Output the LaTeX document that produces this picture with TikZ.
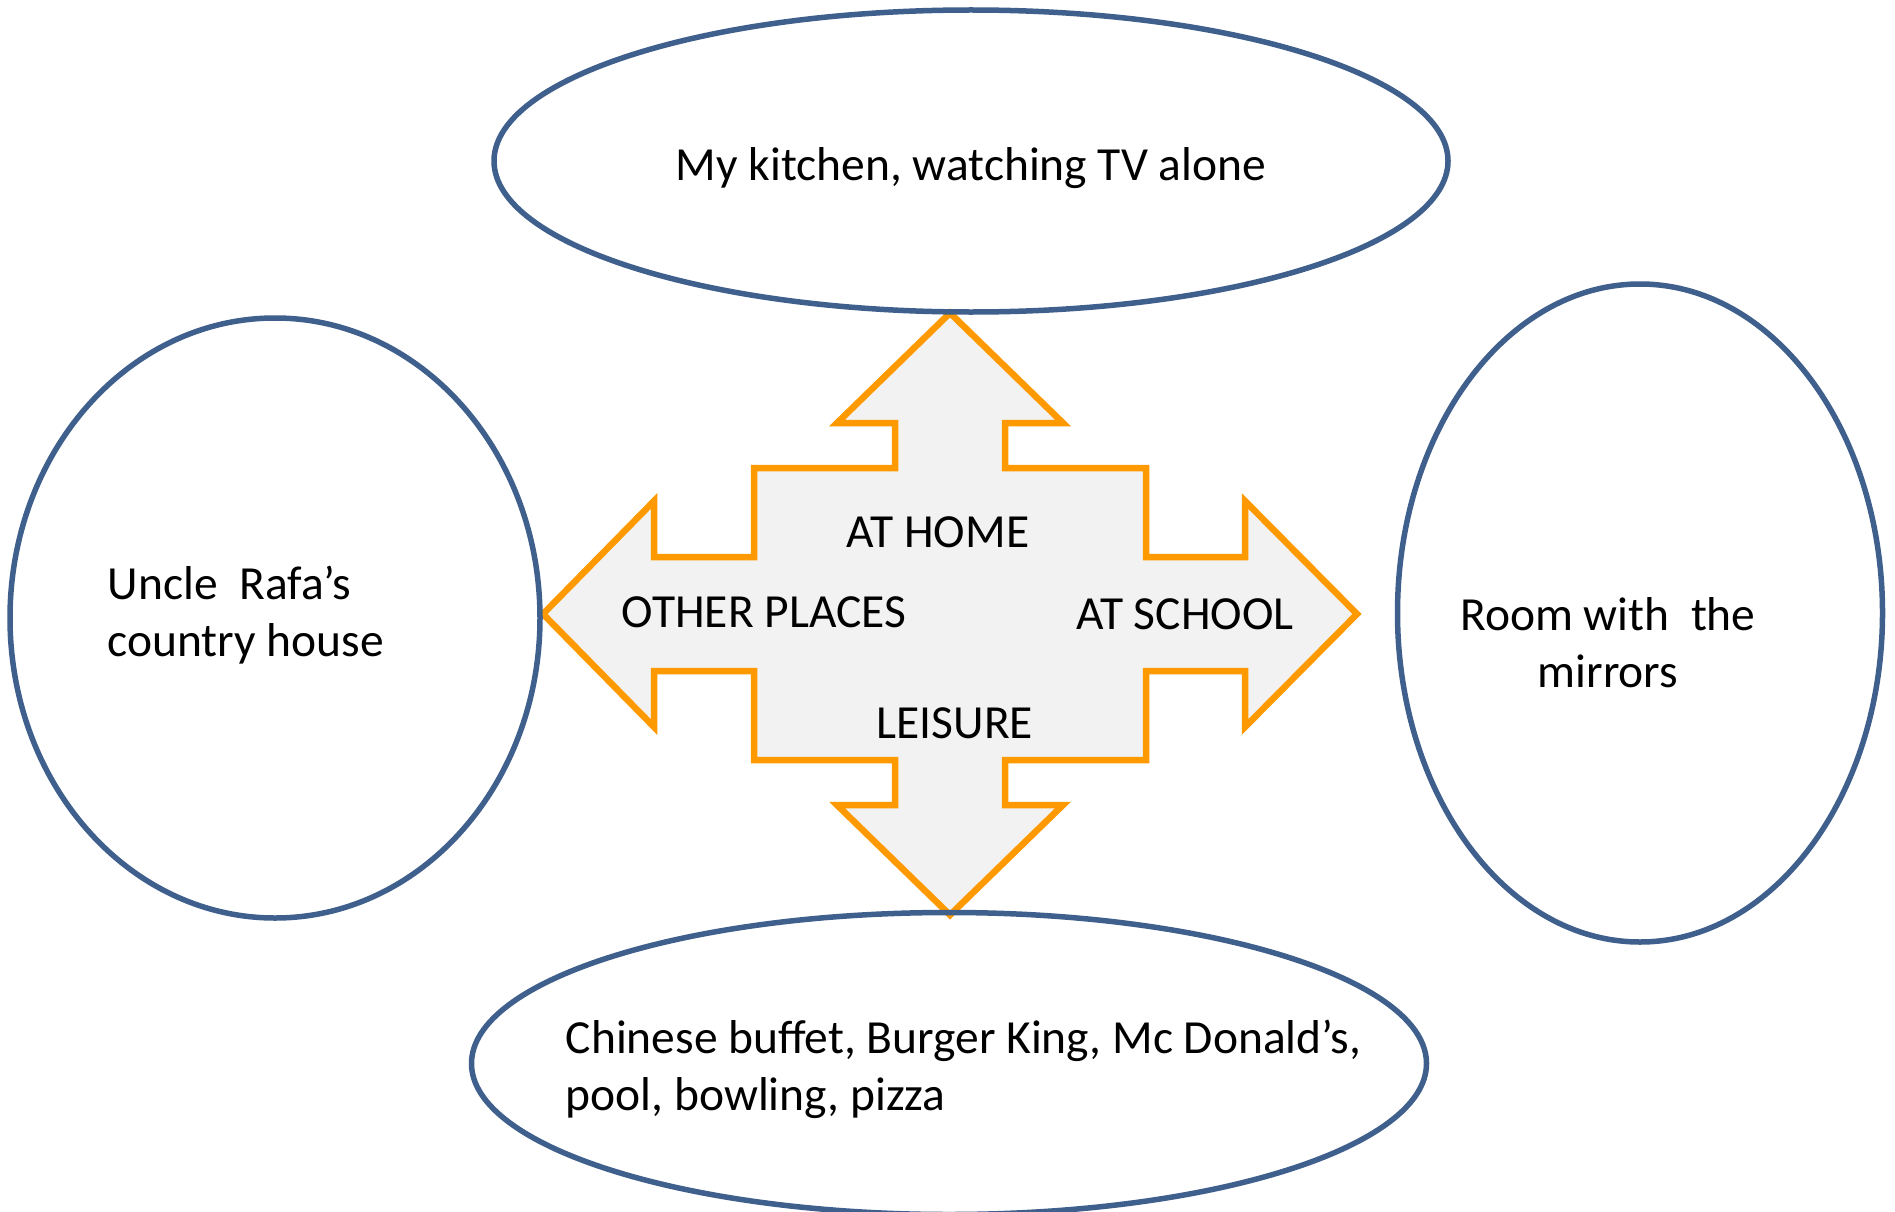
\documentclass[tikz,border=0pt]{standalone}
\usepackage{fontspec}
\setmainfont{Carlito}
\usetikzlibrary{shapes.geometric}
\definecolor{ellblue}{HTML}{3F5F8C}
\definecolor{arrorange}{HTML}{FF9900}
\definecolor{arrfill}{HTML}{F2F2F2}
\tikzset{
  bubble/.style={draw=ellblue, line width=5.5pt, ellipse, inner sep=0pt},
  lbl/.style={font=\fontsize{47.5}{57}\selectfont, inner sep=0pt, text=black},
  quadarrow/.style={draw=arrorange, fill=arrfill, line width=6.5pt, line join=miter}
}
\begin{document}
\begin{tikzpicture}[x=1pt,y=-1pt]
\useasboundingbox (0,0) rectangle (1895,1212);
% four-way arrow
\draw[quadarrow, shift={(950,614)}]
  (0,-301) -- (113,-191) -- (55,-191) -- (55,-146) -- (196,-146) -- (196,-57)
  -- (295,-57) -- (295,-113) -- (407,0) -- (295,113) -- (295,57) -- (196,57)
  -- (196,146) -- (55,146) -- (55,191) -- (113,191) -- (0,301) -- (-113,191)
  -- (-55,191) -- (-55,146) -- (-196,146) -- (-196,57) -- (-296,57) -- (-296,113)
  -- (-407,0) -- (-296,-113) -- (-296,-57) -- (-196,-57) -- (-196,-146)
  -- (-55,-146) -- (-55,-191) -- (-113,-191) -- cycle;
% ellipses
\node[bubble, minimum width=954, minimum height=302] (kitchen) at (971,161) {};
\node[bubble, minimum width=530, minimum height=600] (uncle) at (275,618) {};
\node[bubble, minimum width=485, minimum height=658] (room) at (1640,613) {};
\node[bubble, minimum width=955, minimum height=302] (leisure) at (949,1063.5) {};
% ellipse texts
\node[lbl, anchor=base] (tkitchen) at (971,180) {My kitchen, watching TV alone};
\node[lbl, anchor=base west, align=left] (tuncle) at (107.6,656) {Uncle\ \ Rafa’s\\country house};
\node[lbl, anchor=base, align=center] (troom) at (1608,687) {Room with\ \ the\\mirrors};
\node[lbl, anchor=base west, align=left] (tleisure) at (565.6,1110) {Chinese buffet, Burger King, Mc Donald’s,\\pool, bowling, pizza};
% arrow labels
\node[lbl, anchor=base] (home) at (938,547) {AT HOME};
\node[lbl, anchor=base] (other) at (764,627) {OTHER PLACES};
\node[lbl, anchor=base] (school) at (1185,629) {AT SCHOOL};
\node[lbl, anchor=base] (leis) at (955,738) {LEISURE};
\end{tikzpicture}
\end{document}
